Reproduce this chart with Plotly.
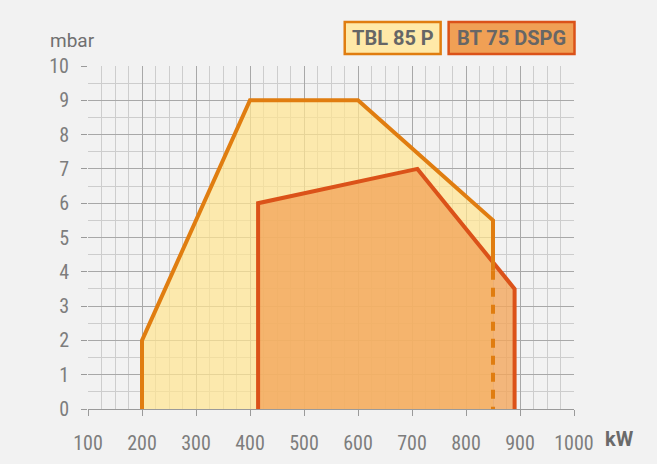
import numpy as np
import plotly.graph_objects as go

# Data
tbl_name = "TBL 85 P"
tbl_kw = [200, 200, 400, 600, 850, 850]
tbl_mbar = [0, 2, 9, 9, 5.5, 0]

bt_name = "BT 75 DSPG"
bt_kw = [415, 415, 710, 890, 890]
bt_mbar = [0, 6, 7, 3.5, 0]

x_ticks = [100, 200, 300, 400, 500, 600, 700, 800, 900, 1000]
y_ticks = list(range(0, 11))

TBL_LINE = "#E07D10"
TBL_FILL = "rgba(255,229,146,0.72)"
BT_LINE = "#DB5219"
BT_FILL = "rgba(242,166,92,0.80)"
FONT = "Liberation Sans Narrow, Roboto Condensed, Roboto, sans-serif"
GRAY = "#7d7d7d"

# where the BT outline crosses the TBL right edge
x_edge = tbl_kw[-1]
cross_y = float(np.interp(x_edge, bt_kw[2:4], bt_mbar[2:4]))

fig = go.Figure()
fig.add_trace(go.Scatter(x=tbl_kw, y=tbl_mbar, fill="toself", fillcolor=TBL_FILL,
                         mode="none", hoverinfo="skip", showlegend=False))
fig.add_trace(go.Scatter(x=bt_kw, y=bt_mbar, fill="toself", fillcolor=BT_FILL,
                         mode="none", hoverinfo="skip", showlegend=False))
fig.add_trace(go.Scatter(x=bt_kw, y=bt_mbar, mode="lines",
                         line=dict(color=BT_LINE, width=4), showlegend=False))
fig.add_trace(go.Scatter(x=tbl_kw[:-1] + [x_edge], y=tbl_mbar[:-1] + [cross_y - 0.25],
                         mode="lines", line=dict(color=TBL_LINE, width=4), showlegend=False))
fig.add_trace(go.Scatter(x=[x_edge, x_edge], y=[cross_y - 0.25, 0], mode="lines",
                         line=dict(color=TBL_LINE, width=4, dash="9px,8px"), showlegend=False))

fig.update_layout(
    width=657, height=464,
    margin=dict(l=88, r=82.5, t=66, b=55, pad=0),
    paper_bgcolor="#F2F2F2", plot_bgcolor="#F2F2F2",
    font=dict(family=FONT, color=GRAY, size=20),
    xaxis=dict(range=[100, 1000], tickvals=x_ticks, showgrid=True, gridcolor="#A8A8A8",
               gridwidth=1, zeroline=False, showline=True, linecolor="#9a9a9a", linewidth=1,
               ticks="outside", ticklen=6, tickcolor="#9a9a9a", ticklabelstandoff=10,
               minor=dict(dtick=25, showgrid=True, gridcolor="#CDCDCD", ticks=""),
               automargin=False, fixedrange=True),
    yaxis=dict(range=[0, 10], tickvals=y_ticks, showgrid=True, gridcolor="#A8A8A8",
               gridwidth=1, zeroline=False, showline=False,
               ticks="outside", ticklen=6, tickcolor="#9a9a9a", ticklabelstandoff=8,
               minor=dict(dtick=0.5, showgrid=True, gridcolor="#CDCDCD", ticks=""),
               automargin=False, fixedrange=True),
)

def px2paper(px, py):
    return (px - 88) / 486.5, (409 - py) / 343

# legend boxes
for (x0, x1, fillc, linec, label) in [
    (345, 441, "#FFE9A8", TBL_LINE, tbl_name),
    (449, 575, "#F0A055", BT_LINE, bt_name),
]:
    a0, b0 = px2paper(x0, 54)
    a1, b1 = px2paper(x1, 22)
    fig.add_shape(type="rect", xref="paper", yref="paper", x0=a0, x1=a1, y0=b0, y1=b1,
                  fillcolor=fillc, line=dict(color=linec, width=2.5), layer="above")
    fig.add_annotation(xref="paper", yref="paper", x=(a0 + a1) / 2, y=(b0 + b1) / 2,
                       text="<b>%s</b>" % label, showarrow=False, xanchor="center",
                       yanchor="middle", font=dict(family="Roboto, sans-serif", size=20, color="#666666"))

ax, ay = px2paper(72, 40)
fig.add_annotation(xref="paper", yref="paper", x=ax, y=ay, text="mbar", showarrow=False,
                   xanchor="center", yanchor="middle",
                   font=dict(family="Roboto, sans-serif", size=19, color="#707070"))
kx, ky = px2paper(620, 439)
fig.add_annotation(xref="paper", yref="paper", x=kx, y=ky, text="<b>kW</b>", showarrow=False,
                   xanchor="center", yanchor="middle",
                   font=dict(family="Roboto, sans-serif", size=20, color="#6a6a6a"))

fig.write_html("out.html", config={"displayModeBar": False},
               post_script="document.body.style.margin='0';")
